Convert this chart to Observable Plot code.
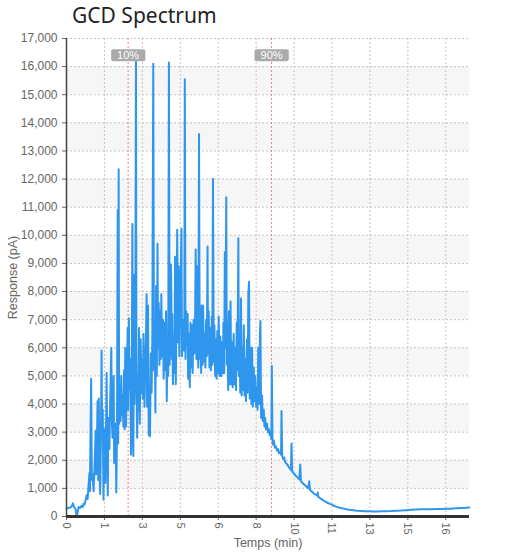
<!DOCTYPE html>
<html><head><meta charset="utf-8">
<script src="https://cdn.jsdelivr.net/npm/d3@7"></script>
<script src="https://cdn.jsdelivr.net/npm/@observablehq/plot@0.6"></script>
<style>
body{margin:0;background:#fff;}
#title{height:30px;padding-left:72px;font-family:"Noto Sans",sans-serif;font-size:21px;line-height:30px;color:#222;}
</style></head><body>
<div id="title">GCD Spectrum</div>
<script>
// [time (min), response (pA)]
const rampPoints = [
[0.00,280],[0.06,300],[0.13,310],[0.21,350],[0.27,470],[0.32,330],[0.38,270],[0.42,30],[0.46,100],[0.51,340],
[0.57,300],[0.63,380],[0.68,330],[0.72,450],[0.76,420],[0.80,560],[0.85,760],[0.89,620],[0.93,1100],[0.97,1550],
[0.99,900],[1.01,2800],[1.04,4900],[1.07,1300],[1.10,1500],[1.14,900],[1.18,1700],[1.23,3050],[1.25,1500],[1.28,2300],
[1.31,4100],[1.34,1300],[1.36,4200],[1.39,1900],[1.42,800],[1.45,2600],[1.48,5900],[1.50,3000],[1.53,3800],[1.56,600],
[1.58,2000],[1.61,3100],[1.64,1200],[1.66,2300],[1.69,5100],[1.72,2600],[1.74,750],[1.77,3500],[1.81,2400],[1.84,4000],
[1.89,6000],[1.91,3500],[1.94,2800],[1.99,5000],[2.01,1900],[2.04,2600],[2.07,3300],[2.10,850],[2.13,3000],[2.16,10900],
[2.18,2600],[2.20,12350],[2.22,3300],[2.25,4600],[2.28,3400],[2.31,5000],[2.34,3600],[2.37,4300],[2.40,3200],[2.43,5200],
[2.45,3100],[2.48,6000],[2.51,3200],[2.54,4600],[2.58,6700],[2.60,3800],[2.63,7050],[2.66,4500],[2.69,5600],[2.72,2200],
[2.75,4200],[2.78,10400],[2.80,3000],[2.82,2150],[2.85,8600],[2.87,4000],[2.90,6000]
];
const peakPoints = [
[2.93,16250],[2.95,5500],[2.98,2800],[3.01,5000],[3.03,3800],[3.06,6700],[3.09,3300],[3.13,6300],[3.16,4400],[3.19,5600],
[3.22,4200],[3.25,6500],[3.29,3900],[3.32,5200],[3.35,6200],[3.38,7900],[3.40,3900],[3.44,7500],[3.47,2900],[3.49,4500],
[3.52,2850],[3.56,5800],[3.59,4400],[3.62,6300],[3.66,16100],[3.69,5200],[3.72,6900],[3.75,3700],[3.78,8200],[3.81,5000],
[3.84,9700],[3.86,6000],[3.89,7600],[3.92,5400],[3.95,7300],[3.98,5600],[4.00,7900],[4.03,5700],[4.07,7000],[4.10,4900],
[4.13,6900],[4.16,5200],[4.20,7300],[4.23,4100],[4.26,6200],[4.29,5000],[4.32,16150],[4.35,5400],[4.37,7000],[4.41,8950],
[4.44,5600],[4.46,7200],[4.49,4700],[4.52,6400],[4.55,5100],[4.58,9240],[4.61,4700],[4.64,7100],[4.67,10200],[4.70,6200],
[4.73,8900],[4.76,5700],[4.79,7400],[4.85,10230],[4.87,5700],[4.90,7000],[4.94,5900],[4.97,6800],[4.99,15550],[5.02,5600],
[5.05,7300],[5.08,6100],[5.11,7200],[5.13,4900],[5.17,6500],[5.20,4600],[5.23,6900],[5.27,5300],[5.29,6800],[5.32,5100],
[5.36,7000],[5.39,5800],[5.42,6600],[5.45,9500],[5.48,5600],[5.51,8900],[5.54,6000],[5.56,5300],[5.59,13600],[5.62,5600],
[5.65,6700],[5.68,5100],[5.70,7500],[5.74,5400],[5.76,7500],[5.80,5500],[5.83,6500],[5.86,5300],[5.89,7000],[5.92,5700],
[5.95,9600],[5.97,5800],[6.00,7300],[6.03,5300],[6.06,6700],[6.09,5200],[6.13,7100],[6.15,5400],[6.18,12000],[6.21,5500],
[6.24,6800],[6.27,5000],[6.30,6300],[6.33,4900],[6.36,6600],[6.39,5100],[6.42,7100],[6.46,5000],[6.49,6400],[6.53,5000],
[6.56,6200],[6.59,5100],[6.62,6900],[6.65,5100],[6.68,9400],[6.70,6000],[6.74,11350],[6.76,5400],[6.79,6900],[6.82,4500],
[6.85,7300],[6.89,4700],[6.92,7650],[6.95,4700],[6.98,6200],[7.01,4600],[7.05,6500],[7.08,4700],[7.12,6000],[7.15,4500],
[7.18,6900],[7.21,5200],[7.25,9900],[7.27,5000],[7.30,6300],[7.33,4400],[7.36,7750],[7.39,4300],[7.42,6000],[7.45,4500],
[7.48,6800],[7.51,4300],[7.54,5600],[7.57,4100],[7.61,6300],[7.64,4400],[7.67,7900],[7.70,8350],[7.73,4200],[7.77,6000],
[7.80,4000],[7.83,6000],[7.86,3900],[7.90,5300],[7.93,4100],[7.96,5000],[8.00,3900],[8.03,4600],[8.06,3800],[8.09,6000],
[8.13,4000],[8.16,6500],[8.18,6950],[8.21,3500]
];
const decayPoints = [
[8.25,4300],[8.28,3400],[8.32,3800],[8.35,3200],[8.38,3500],[8.42,3100],[8.46,3300],[8.50,3000],[8.54,3100],[8.57,2900],
[8.61,3000],[8.64,2750],[8.66,5350],[8.69,2700],[8.72,2550],[8.75,2700],[8.79,2450],[8.83,2500],[8.88,2350],[8.92,2400],
[8.96,2250],[9.00,2300],[9.05,2200],[9.07,3750],[9.10,2150],[9.14,2050],[9.18,2100],[9.22,1950],[9.26,1900],[9.31,1850],
[9.35,1800],[9.38,1750],[9.43,1700],[9.47,1650],[9.49,2600],[9.52,1600],[9.57,1550],[9.63,1500],[9.70,1420],[9.76,1380],
[9.82,1320],[9.86,1850],[9.89,1250],[9.95,1200],[10.01,1150],[10.08,1100],[10.14,1050],[10.20,1000],[10.24,1250],[10.27,950],
[10.33,900],[10.40,850],[10.46,800],[10.52,780],[10.59,740],[10.60,850],[10.62,700],[10.69,660],[10.78,600],[10.86,560],
[10.94,520],[11.03,480],[11.11,450],[11.20,420],[11.28,380],[11.37,350],[11.45,330],[11.54,310],[11.62,290],[11.71,280]
];
const tailPoints = [
[11.79,260],[11.92,240],[12.04,230],[12.17,210],[12.30,200],[12.42,195],[12.59,190],[12.76,185],[12.93,180],[13.10,180],
[13.27,185],[13.48,190],[13.69,195],[13.90,205],[14.11,210],[14.33,225],[14.54,240],[14.75,250],[14.96,255],[15.17,260],
[15.38,260],[15.59,265],[15.80,270],[16.02,275],[16.23,280],[16.44,290],[16.65,300],[16.86,310],[16.99,320]
];

const markerLabels = ["10%", "90%"];
const markerTimes = [2.6, 8.65];
const xTickLabels = ["0","1","3","5","6","8","10","11","13","15","16"];
const xTickStep = 1.6;
const yTicks = d3.range(0, 17001, 1000);

const spectrum = [...rampPoints, ...peakPoints, ...decayPoints, ...tailPoints].map(([t, v]) => ({t, v}));
const markers = markerLabels.map((label, i) => ({label, t: markerTimes[i]}));
const xTicks = xTickLabels.map((_, i) => +(i * xTickStep).toFixed(2));
const bands = yTicks.filter((d, i) => i % 2 === 1 && d < 17000);

const chart = Plot.plot({
  width: 508,
  height: 530,
  marginTop: 8,
  marginBottom: 44,
  marginLeft: 66,
  marginRight: 39,
  style: {fontFamily: "'Liberation Sans', Arial, sans-serif", fontSize: "12px", color: "#666", background: "#fff"},
  x: {
    domain: [0, 17],
    ticks: xTicks,
    tickFormat: (d) => xTickLabels[xTicks.indexOf(+d.toFixed(2))],
    tickRotate: 90,
    tickSize: 4,
    tickPadding: 2,
    label: "Temps (min)",
    labelAnchor: "center",
    labelArrow: "none",
    labelOffset: 30
  },
  y: {
    domain: [0, 17000],
    ticks: yTicks,
    tickFormat: d3.format(","),
    tickSize: 4,
    label: "Response (pA)",
    labelAnchor: "center",
    labelArrow: "none",
    labelOffset: 58
  },
  marks: [
    Plot.rect(bands, {y1: (d) => d, y2: (d) => d + 1000, fill: "#f6f6f6"}),
    Plot.ruleY(yTicks, {stroke: "#c4c4c4", strokeDasharray: "2,2"}),
    Plot.ruleX(xTicks, {stroke: "#c4c4c4", strokeDasharray: "2,2"}),
    Plot.ruleX(markerTimes, {stroke: "#ff5a5a", strokeOpacity: 0.8, strokeWidth: 1, strokeDasharray: "2,2"}),
    Plot.line(spectrum, {x: "t", y: "v", stroke: "#2e96ec", strokeWidth: 2}),
    Plot.ruleX([0], {stroke: "#444", strokeWidth: 1.5}),
    Plot.ruleY([0], {stroke: "#333", strokeWidth: 3}),
    Plot.text(markers, {x: "t", text: "label", frameAnchor: "top", dy: 13, fill: "#fff", fontSize: 11})
  ]
});
document.body.append(chart);

// strip any automatic arrows from axis labels; size the tick and axis labels
chart.querySelectorAll("text, tspan").forEach((el) => {
  if (el.childElementCount === 0 && /[→↑←↓]/.test(el.textContent)) {
    el.textContent = el.textContent.replace(/\s*[→↑←↓]\s*/g, "").trim();
  }
});
chart.querySelectorAll("text").forEach((el) => {
  const s = el.textContent;
  if (s === "Temps (min)" || s === "Response (pA)") el.setAttribute("font-size", "12.5");
  else if (xTickLabels.includes(s) && el.closest("g[aria-label*='x-axis']")) el.setAttribute("font-size", "11");
});

// gray rounded boxes behind the percentage labels
chart.querySelectorAll("text").forEach((el) => {
  if (!markerLabels.includes(el.textContent)) return;
  const b = el.getBBox();
  const r = document.createElementNS("http://www.w3.org/2000/svg", "rect");
  r.setAttribute("x", b.x - 6);
  r.setAttribute("y", b.y + b.height / 2 - 6);
  r.setAttribute("width", b.width + 12);
  r.setAttribute("height", 12);
  r.setAttribute("rx", 2);
  r.setAttribute("fill", "#aaaaaa");
  const tr = el.getAttribute("transform");
  if (tr) r.setAttribute("transform", tr);
  el.parentNode.insertBefore(r, el);
});
</script></body></html>
